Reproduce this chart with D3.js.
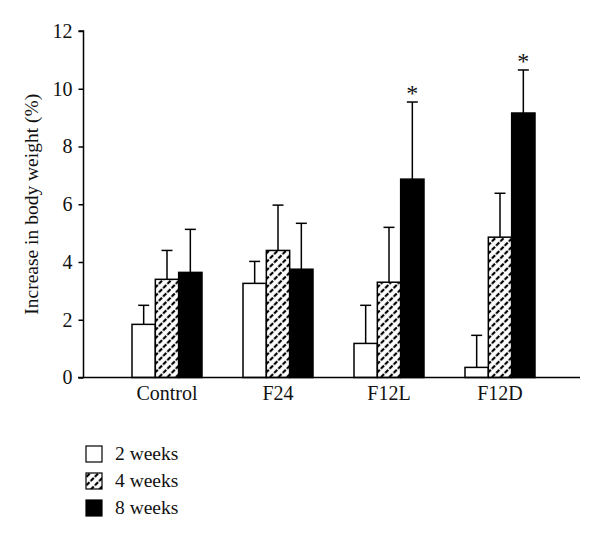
<!DOCTYPE html>
<html>
<head>
<meta charset="utf-8">
<script src="https://cdn.jsdelivr.net/npm/d3@7"></script>
<style>
  body { margin: 0; background: #fff; }
  text { font-family: "Liberation Serif", "DejaVu Serif", serif; fill: #111; }
</style>
</head>
<body>
<div id="chart"></div>
<script>
// data
var groups = ["Control", "F24", "F12L", "F12D"];
var series = ["2 weeks", "4 weeks", "8 weeks"];
var means = [
  [1.84, 3.40, 3.64],
  [3.26, 4.40, 3.75],
  [1.18, 3.30, 6.87],
  [0.35, 4.86, 9.16]
];
var errTops = [
  [2.50, 4.40, 5.13],
  [4.02, 5.97, 5.34],
  [2.50, 5.20, 9.54],
  [1.46, 6.38, 10.65]
];
var starred = [false, false, true, true]; // 8 weeks bar marked *
var yTicks = [0, 2, 4, 6, 8, 10, 12];

var width = 600, height = 540;
var svg = d3.select("#chart").append("svg")
  .attr("width", width)
  .attr("height", height);

var defs = svg.append("defs");
var pat = defs.append("pattern")
  .attr("id", "hatch")
  .attr("patternUnits", "userSpaceOnUse")
  .attr("width", 6)
  .attr("height", 6)
  .attr("patternTransform", "rotate(45)");
pat.append("rect").attr("width", 6).attr("height", 6).attr("fill", "#fff");
pat.append("line")
  .attr("x1", 3).attr("y1", 0).attr("x2", 3).attr("y2", 6)
  .attr("stroke", "#000")
  .attr("stroke-width", 2.2)
  .attr("stroke-dasharray", "2.5,1.5");

var fills = ["#fff", "url(#hatch)", "#000"];

var y = d3.scaleLinear().domain([0, 12]).range([377.5, 31]);
var x = d3.scalePoint().domain(groups).range([167, 500]);
var xs = d3.scaleBand().domain(series).range([-35, 35]);

// y axis
var yAxis = svg.append("g")
  .attr("transform", "translate(83.5,0)")
  .call(d3.axisLeft(y).tickValues(yTicks).tickSize(5).tickPadding(6).tickFormat(d3.format("d")));
yAxis.select(".domain").attr("stroke", "#000").attr("stroke-width", 1.5).attr("d", "M-5," + y(12) + "H0V" + y(0));
yAxis.selectAll(".tick line").attr("stroke", "#000").attr("stroke-width", 1.5);
yAxis.selectAll(".tick text").style("font-size", "20px").style("font-family", "Liberation Serif, serif");

svg.append("text")
  .attr("transform", "translate(38," + ((y(0) + y(12)) / 2) + ") rotate(-90)")
  .attr("text-anchor", "middle")
  .style("font-size", "19.5px")
  .text("Increase in body weight (%)");

// bars
var g = svg.selectAll(".grp")
  .data(groups)
  .enter().append("g")
  .attr("class", "grp")
  .attr("transform", function(d) { return "translate(" + x(d) + ",0)"; });

g.each(function(grp, gi) {
  var sel = d3.select(this);
  series.forEach(function(s, si) {
    var cx = xs(s) + xs.bandwidth() / 2;
    // error bar (upper only)
    sel.append("line")
      .attr("x1", cx).attr("x2", cx)
      .attr("y1", y(means[gi][si])).attr("y2", y(errTops[gi][si]))
      .attr("stroke", "#000").attr("stroke-width", 1.5);
    sel.append("line")
      .attr("x1", cx - 5.5).attr("x2", cx + 5.5)
      .attr("y1", y(errTops[gi][si])).attr("y2", y(errTops[gi][si]))
      .attr("stroke", "#000").attr("stroke-width", 1.5);
    sel.append("rect")
      .attr("x", xs(s))
      .attr("y", y(means[gi][si]))
      .attr("width", xs.bandwidth())
      .attr("height", y(0) - y(means[gi][si]))
      .attr("fill", fills[si])
      .attr("stroke", "#000")
      .attr("stroke-width", 1.5);
    if (si === 2 && starred[gi]) {
      sel.append("text")
        .attr("x", cx)
        .attr("y", y(errTops[gi][si]) - 1)
        .attr("text-anchor", "middle")
        .style("font-size", "24px")
        .text("*");
    }
  });
  sel.append("text")
    .attr("x", 0)
    .attr("y", y(0) + 22)
    .attr("text-anchor", "middle")
    .style("font-size", "20px")
    .text(grp);
});

// x axis line
svg.append("line")
  .attr("x1", 78).attr("x2", 580)
  .attr("y1", y(0)).attr("y2", y(0))
  .attr("stroke", "#000").attr("stroke-width", 1.5);

// legend
var leg = svg.selectAll(".leg")
  .data(series)
  .enter().append("g")
  .attr("class", "leg")
  .attr("transform", function(d, i) { return "translate(86," + (446 + i * 27) + ")"; });
leg.append("rect")
  .attr("width", 16).attr("height", 16)
  .attr("fill", function(d, i) { return fills[i]; })
  .attr("stroke", "#000").attr("stroke-width", 1.2);
leg.append("text")
  .attr("x", 29).attr("y", 14)
  .style("font-size", "19.5px")
  .text(function(d) { return d; });
</script>
</body>
</html>
